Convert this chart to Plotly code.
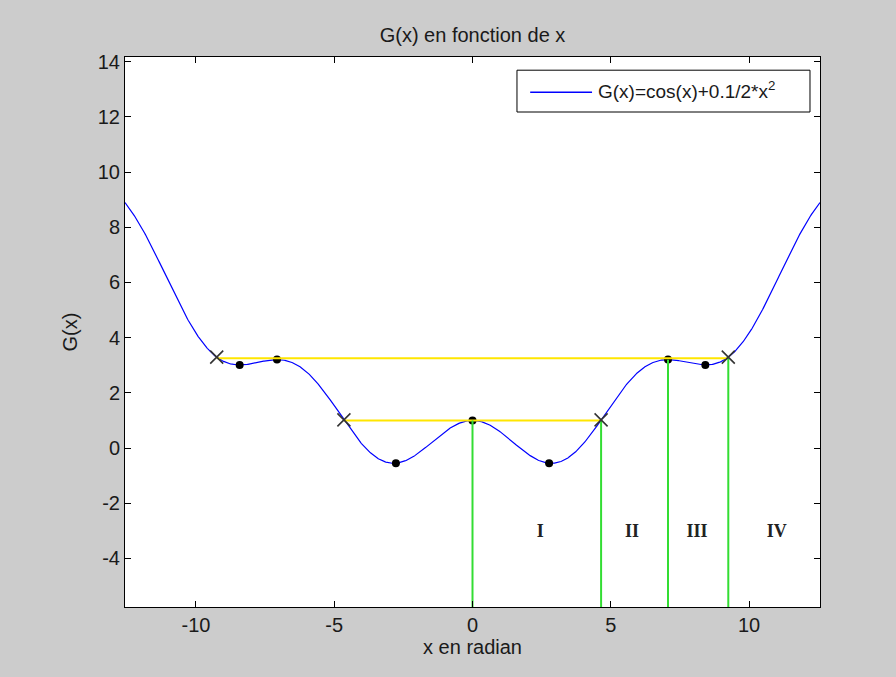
import numpy as np
import plotly.graph_objects as go

# G(x) = cos(x) + 0.1/2 * x^2 on [-4pi, 4pi]
X_MIN, X_MAX = -4 * np.pi, 4 * np.pi


def G(x):
    return np.cos(x) + 0.1 / 2 * np.asarray(x) ** 2


curve_x = np.linspace(X_MIN, X_MAX, 1200)
curve_y = G(curve_x)

# local extrema (dots)
extrema_x = [-8.42, -7.07, -2.77, 0.0, 2.77, 7.07, 8.42]
# level crossings (x marks)
cross_x = [-9.25, -4.65, 4.65, 9.25]
# horizontal level segments: (x start, x end, level)
level_x0 = [-4.65, -9.25]
level_x1 = [4.65, 9.25]
level_y = [1.0, 3.25]
# vertical separators: x position, top value
sep_x = [0.0, 4.65, 7.07, 9.25]
sep_top = [1.0, 1.02, 3.2, 3.29]
# region labels
region_names = ["I", "II", "III", "IV"]
region_x = [2.45, 5.77, 8.12, 11.0]
region_y = [-3.05, -3.05, -3.05, -3.05]

x_ticks = [-10, -5, 0, 5, 10]
x_ticktext = ["-10", "-5", "0", "5", "10"]
y_ticks = [-4, -2, 0, 2, 4, 6, 8, 10, 12, 14]
y_ticktext = ["-4", "-2", "0", "2", "4", "6", "8", "10", "12", "14"]
Y_MIN, Y_MAX = -5.76, 14.17

FONT = "Liberation Sans"
FS = 20
TXT = "#1a1a1a"

fig = go.Figure()

fig.add_trace(go.Scatter(x=curve_x, y=curve_y, mode="lines",
                         line=dict(color="#0000ff", width=1.2),
                         hoverinfo="skip", showlegend=False))

fig.add_trace(go.Scatter(x=extrema_x, y=G(np.array(extrema_x)), mode="markers",
                         marker=dict(color="black", size=8),
                         showlegend=False))

for x0, x1, y in zip(level_x0, level_x1, level_y):
    fig.add_trace(go.Scatter(x=[x0, x1], y=[y, y], mode="lines",
                             line=dict(color="#ffe600", width=2),
                             showlegend=False))

for x, top in zip(sep_x, sep_top):
    fig.add_trace(go.Scatter(x=[x, x], y=[Y_MIN, top], mode="lines",
                             line=dict(color="#33dd33", width=2),
                             showlegend=False))

fig.add_trace(go.Scatter(x=cross_x, y=G(np.array(cross_x)), mode="markers",
                         marker=dict(symbol="x-thin", size=13,
                                     line=dict(color="#333333", width=1.6)),
                         showlegend=False))

fig.add_trace(go.Scatter(x=region_x, y=region_y, mode="text",
                         text=region_names,
                         textfont=dict(family="Liberation Serif", size=18,
                                       color="#222222", weight="bold"),
                         showlegend=False))

# legend box drawn by hand
fig.add_shape(type="rect", xref="paper", yref="paper",
              x0=0.564, x1=0.9856, y0=0.9, y1=0.976,
              line=dict(color="black", width=1), fillcolor="white", layer="above")
fig.add_shape(type="line", xref="paper", yref="paper",
              x0=0.583, x1=0.672, y0=0.936, y1=0.936,
              line=dict(color="#0000ff", width=1.5), layer="above")
fig.add_annotation(xref="paper", yref="paper", x=0.678, y=0.940,
                   xanchor="left", yanchor="middle", showarrow=False,
                   text="G(x)=cos(x)+0.1/2*x<sup>2</sup>",
                   font=dict(family=FONT, size=19, color=TXT))

axis_common = dict(showline=True, linecolor="black", linewidth=1,
                   mirror="ticks", ticks="inside", ticklen=6,
                   tickcolor="black", showgrid=False, zeroline=False,
                   tickfont=dict(family=FONT, size=FS, color=TXT))

fig.update_layout(
    width=896, height=677,
    paper_bgcolor="#cccccc", plot_bgcolor="white",
    margin=dict(l=125, r=76, t=57, b=70),
    title=dict(text="G(x) en fonction de x", xref="paper", x=0.5,
               xanchor="center", y=1 - 35 / 677, yanchor="middle",
               font=dict(family=FONT, size=FS, color=TXT)),
    xaxis=dict(range=[X_MIN, X_MAX], tickvals=x_ticks, ticktext=x_ticktext,
               title=dict(text="x en radian", standoff=4,
                          font=dict(family=FONT, size=FS, color=TXT)),
               **axis_common),
    yaxis=dict(range=[Y_MIN, Y_MAX], tickvals=y_ticks, ticktext=y_ticktext,
               title=dict(text="G(x)", standoff=14,
                          font=dict(family=FONT, size=FS, color=TXT)),
               **axis_common),
    showlegend=False,
)

fig.write_html("out.html")
